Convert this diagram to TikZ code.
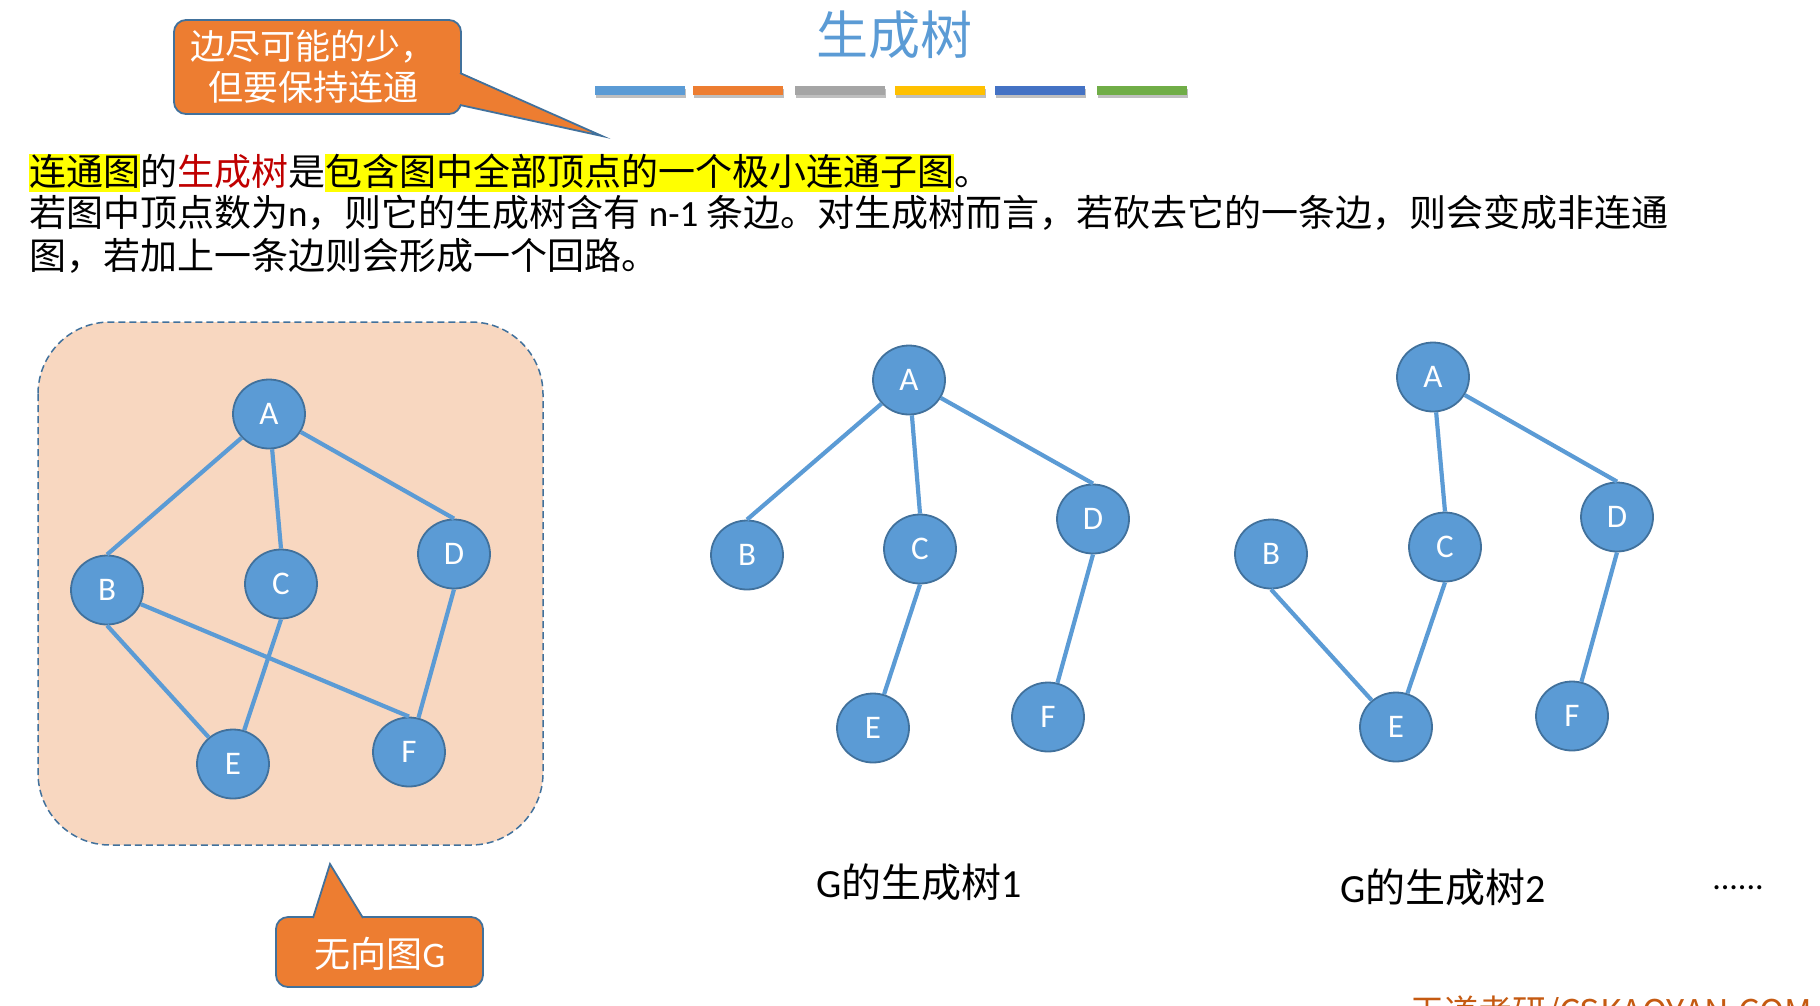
\documentclass[tikz,border=0pt]{standalone}
\usepackage{fontspec}
\setmainfont{Noto Sans CJK SC}
\newfontfamily\lat{Carlito}
\usetikzlibrary{shapes.geometric}
\definecolor{nodeblue}{HTML}{5B9BD5}
\definecolor{darkborder}{HTML}{41719C}
\definecolor{callorange}{HTML}{ED7D31}
\definecolor{peach}{HTML}{F8D7C0}
\definecolor{hiyellow}{HTML}{FFFF00}
\definecolor{redtxt}{HTML}{C00000}
\definecolor{barblue}{HTML}{5B9BD5}
\definecolor{barorange}{HTML}{ED7D31}
\definecolor{bargray}{HTML}{A5A5A5}
\definecolor{baryellow}{HTML}{FFC000}
\definecolor{bardblue}{HTML}{4472C4}
\definecolor{bargreen}{HTML}{70AD47}
\definecolor{wmark}{HTML}{C55A11}
\newcommand{\hl}[1]{{\setlength{\fboxsep}{0pt}\colorbox{hiyellow}{\rule[-0.2em]{0pt}{1.03em}#1}}}
\tikzset{
  vtx/.style={ellipse, fill=nodeblue, draw=darkborder, line width=1.8pt,
    minimum width=72pt, minimum height=69pt, inner sep=0pt,
    text=white, font=\lat\fontsize{33}{33}\selectfont},
  edge/.style={draw=nodeblue, line width=4.2pt},
  callbox/.style={rounded corners=12pt, fill=callorange, draw=darkborder, line width=1.8pt},
  calltxt/.style={text=white, align=center, font=\fontsize{35}{41}\selectfont},
  bodytxt/.style={anchor=base west, inner sep=0pt, font=\fontsize{37}{43}\selectfont},
  lbl/.style={font=\fontsize{40}{40}\selectfont},
  bar/.style={minimum width=90pt, minimum height=9pt, inner sep=0pt, anchor=north west},
}
\begin{document}
\begin{tikzpicture}[x=1pt,y=-1pt]
\useasboundingbox (0,0) rectangle (1820,1005);
\fill[white] (0,0) rectangle (1820,1005);

% title
\node[text=nodeblue, font=\fontsize{52}{52}\selectfont] (title) at (894,35) {生成树};

% colour bars with shadow
\foreach \x/\c [count=\i] in {595/barblue,693/barorange,795/bargray,895/baryellow,995/bardblue,1097/bargreen}{
  \fill[black!25] (\x+1,89) rectangle (\x+91,98);
  \node[bar, fill=\c] (bar\i) at (\x,86) {};
}

% top callout
\draw[callbox] (174,20) rectangle (461,114);
\fill[callorange] (602,136) -- (461,105) -- (455,105) -- (455,73) -- (461,73) -- cycle;
\coordinate (tipA) at (602,136);
\coordinate (baseA1) at (460,73);
\coordinate (baseA2) at (460,105);
\draw[darkborder, line width=1.8pt, line join=miter] (baseA1) -- (tipA) -- (baseA2);
\node[calltxt] (calltop) at (313,67) {边尽可能的少，\\但要保持连通};

% body text
\node[bodytxt] (line1) at (29,185) {\hl{连通图}的\textcolor{redtxt}{生成树}是\hl{包含图中全部顶点的一个极小连通子图}。};
\node[bodytxt] (line2) at (29,226) {若图中顶点数为{\lat n}，则它的生成树含有 {\lat n-1} 条边。对生成树而言，若砍去它的一条边，则会变成非连通};
\node[bodytxt] (line3) at (29,269) {图，若加上一条边则会形成一个回路。};

% left box
\draw[fill=peach, draw=darkborder, line width=1.5pt, dash pattern=on 7pt off 4pt, rounded corners=72pt] (38,322) rectangle (543,845);

% graph G
\node[vtx] (gA) at (269,414) {A};
\node[vtx] (gB) at (107,590) {B};
\node[vtx] (gC) at (281,584) {C};
\node[vtx] (gD) at (454,554) {D};
\node[vtx] (gE) at (233,764) {E};
\node[vtx] (gF) at (409,752) {F};
\draw[edge] (gA) -- (gB.north);
\draw[edge] (gA) -- (gC.north);
\draw[edge] (gA) -- (gD.north);
\draw[edge] (gB.south) -- (gE);
\draw[edge] (gB) -- (gF.north);
\draw[edge] (gC.south) -- (gE);
\draw[edge] (gD.south) -- (gF);

% tree 1
\node[vtx] (aA) at (909,380) {A};
\node[vtx] (aB) at (747,555) {B};
\node[vtx] (aC) at (920,549) {C};
\node[vtx] (aD) at (1093,519) {D};
\node[vtx] (aE) at (873,728) {E};
\node[vtx] (aF) at (1048,717) {F};
\draw[edge] (aA) -- (aB.north);
\draw[edge] (aA) -- (aC.north);
\draw[edge] (aA) -- (aD.north);
\draw[edge] (aC.south) -- (aE);
\draw[edge] (aD.south) -- (aF);

% tree 2
\node[vtx] (bA) at (1433,377) {A};
\node[vtx] (bB) at (1271,554) {B};
\node[vtx] (bC) at (1445,547) {C};
\node[vtx] (bD) at (1617,517) {D};
\node[vtx] (bE) at (1396,727) {E};
\node[vtx] (bF) at (1572,716) {F};
\draw[edge] (bA) -- (bC.north);
\draw[edge] (bA) -- (bD.north);
\draw[edge] (bB.south) -- (bE);
\draw[edge] (bC.south) -- (bE);
\draw[edge] (bD.south) -- (bF);

% labels
\node[lbl] (lab1) at (919,882) {{\lat G}的生成树{\lat 1}};
\node[lbl] (lab2) at (1443,887) {{\lat G}的生成树{\lat 2}};
\node[font=\lat\fontsize{34}{34}\selectfont] (dots) at (1738,888) {......};

% bottom callout
\draw[callbox] (276,917) rectangle (483,987);
\fill[callorange] (330,864) -- (313,917) -- (313,923) -- (363,923) -- (363,917) -- cycle;
\coordinate (tipB) at (330,864);
\coordinate (baseB1) at (313,918);
\coordinate (baseB2) at (363,918);
\draw[darkborder, line width=1.8pt, line join=miter] (baseB1) -- (tipB) -- (baseB2);
\node[calltxt, font=\fontsize{36}{36}\selectfont] (callbot) at (380,954) {无向图{\lat G}};

% watermark (cut off at the bottom edge, as in the reference)
\node[anchor=base west, inner sep=0pt, text=wmark, font=\fontsize{34}{34}\selectfont] (wm) at (1410,1024) {王道考研/CSKAOYAN.COM};
\end{tikzpicture}
\end{document}
